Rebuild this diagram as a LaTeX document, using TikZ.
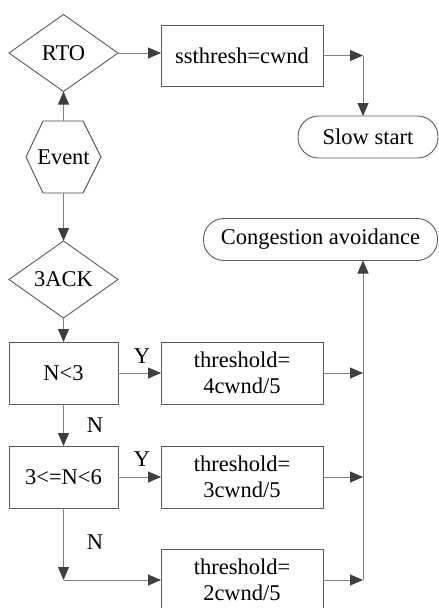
\documentclass[tikz,border=0pt]{standalone}
\usepackage{fontspec}
\setmainfont{Liberation Serif}
\usetikzlibrary{arrows.meta,calc,shapes.geometric}
\definecolor{lineC}{HTML}{808080}
\definecolor{boxC}{HTML}{5A5A5A}
\definecolor{tipC}{HTML}{3F3F3F}
\tikzset{
  base/.style={font=\fontsize{22.5}{26}\selectfont, inner sep=0pt, outer sep=0pt, align=center, text=black},
  procbox/.style={base, draw=boxC, line width=0.9pt, minimum width=162, minimum height=61},
  condbox/.style={base, draw=boxC, line width=0.9pt, minimum width=109, minimum height=62},
  decision/.style={base, draw=boxC, line width=0.9pt, diamond, minimum width=109, minimum height=77},
  terminal/.style={base, draw=boxC, line width=0.9pt, rounded corners=20.5pt, minimum height=42},
  lbl/.style={base},
  conn/.style={draw=lineC, line width=0.9pt, -{Triangle[length=13pt,width=11pt,fill=tipC,color=tipC]}},
  plain/.style={draw=lineC, line width=0.9pt},
  hexline/.style={draw=boxC, line width=0.9pt},
}
\begin{document}
\begin{tikzpicture}[x=1pt,y=-1pt]
\useasboundingbox (0,0) rectangle (439,608);
\clip (0,0) rectangle (439,608);
% nodes
\node[decision] (rto) at (63.5,53) {RTO};
\node[procbox] (ss) at (242,55.5) {ssthresh=cwnd};
\node[terminal, minimum width=140] (slow) at (368,137) {Slow start};
\node[base, minimum width=75, minimum height=72] (ev) at (63.5,157) {Event};
\node[terminal, minimum width=234] (ca) at (320.5,239.5) {Congestion avoidance};
\node[decision] (ack) at (63.5,279.5) {3ACK};
\node[condbox] (c1) at (63.5,373) {N<3};
\node[procbox, minimum height=62] (t4) at (242,373) {threshold=\\4cwnd/5};
\node[condbox] (c2) at (63.5,477) {3<=N<6};
\node[procbox, minimum height=62] (t3) at (242,477) {threshold=\\3cwnd/5};
\node[procbox, minimum height=62] (t2) at (242,580) {threshold=\\2cwnd/5};
% hexagon for Event (with faint offset outline)
\draw[gray!22, line width=0.9pt, shift={(3,2)}] (ev.west) -- ($(ev.north west)+(17,0)$) -- ($(ev.north east)+(-18,0)$) -- (ev.east) -- ($(ev.south east)+(-18,0)$) -- ($(ev.south west)+(17,0)$) -- cycle;
\draw[hexline] (ev.west) -- ($(ev.north west)+(17,0)$) -- ($(ev.north east)+(-18,0)$) -- (ev.east) -- ($(ev.south east)+(-18,0)$) -- ($(ev.south west)+(17,0)$) -- cycle;
% labels
\node[lbl] (y1) at (142,356) {Y};
\node[lbl] (n1) at (95,425) {N};
\node[lbl] (y2) at (142,459) {Y};
\node[lbl] (n2) at (95,542) {N};
% helper coordinates
\coordinate (k1) at (363,55.5);
\coordinate (k2) at (63.5,580);
\coordinate (jn) at (363,580);
% connectors
\draw[conn] (rto.east) -- (ss.west |- rto.east);
\draw[conn] (ss.east) -- (k1);
\draw[conn] (k1) -- (k1 |- slow.north);
\draw[conn] (ev.north) -- (rto.south);
\draw[conn] (ev.south) -- (ack.north);
\draw[conn] (ack.south) -- (c1.north);
\draw[conn] (c1.east) -- (t4.west |- c1.east);
\draw[conn] (t4.east) -- (t4.east -| jn);
\draw[conn] (c1.south) -- (c2.north);
\draw[conn] (c2.east) -- (t3.west |- c2.east);
\draw[conn] (t3.east) -- (t3.east -| jn);
\draw[conn] (c2.south) -- (k2);
\draw[conn] (k2) -- (t2.west);
\draw[conn] (t2.east) -- (jn);
\draw[conn] (jn) -- (jn |- ca.south);
\end{tikzpicture}
\end{document}
